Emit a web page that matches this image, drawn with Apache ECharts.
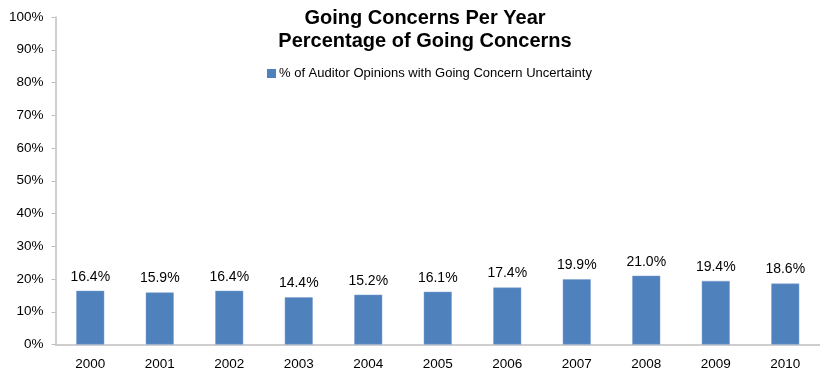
<!DOCTYPE html>
<html>
<head>
<meta charset="utf-8">
<script src="https://cdn.jsdelivr.net/npm/echarts@6/dist/echarts.min.js"></script>
<style>
  html, body { margin: 0; padding: 0; background: #fff; }
  #chart { width: 820px; height: 374px; }
</style>
</head>
<body>
<div id="chart"></div>
<script>
// Share of audit opinions carrying a going-concern uncertainty, by year
const years = ['2000', '2001', '2002', '2003', '2004', '2005', '2006', '2007', '2008', '2009', '2010'];
const goingConcernPct = [16.4, 15.9, 16.4, 14.4, 15.2, 16.1, 17.4, 19.9, 21.0, 19.4, 18.6];
const seriesName = '% of Auditor Opinions with Going Concern Uncertainty';
const titleLines = ['Going Concerns Per Year', 'Percentage of Going Concerns'];

const FONT = '"Liberation Sans Narrow", "Arial Narrow", "Liberation Sans", Arial, sans-serif';
const AXIS_GRAY = '#bfbfbf';
const BAR_BLUE = '#4f81bd';

const chart = echarts.init(document.getElementById('chart'), null, { renderer: 'canvas' });
chart.setOption({
  animation: false,
  title: {
    text: titleLines.join('\n'),
    left: 420,
    textAlign: 'center',
    top: 2,
    textStyle: { fontFamily: FONT, fontWeight: 'bold', fontSize: 20, lineHeight: 23, color: '#000' }
  },
  legend: {
    data: [{ name: seriesName, itemStyle: { color: BAR_BLUE, borderWidth: 0 } }],
    top: 62,
    left: 262,
    icon: 'rect',
    itemWidth: 9,
    itemHeight: 9,
    itemGap: 5,
    textStyle: { fontFamily: FONT, fontSize: 13, color: '#000', padding: [0, 0, 0, -2] }
  },
  grid: { left: 55.5, right: -11, top: 17, bottom: 29.5, containLabel: false },
  xAxis: {
    type: 'category',
    data: years,
    axisLine: { lineStyle: { color: AXIS_GRAY, width: 1.5 } },
    axisTick: { show: false },
    axisLabel: { fontFamily: FONT, fontSize: 13.5, color: '#000', margin: 13 }
  },
  yAxis: {
    type: 'value',
    min: 0,
    max: 100,
    interval: 10,
    axisLine: { show: true, lineStyle: { color: AXIS_GRAY, width: 1.5 } },
    axisTick: { show: true, length: 4, lineStyle: { color: AXIS_GRAY } },
    splitLine: { show: false },
    axisLabel: { fontFamily: FONT, fontSize: 13.5, color: '#000', margin: 12, formatter: '{value}%' }
  },
  series: [{
    name: seriesName,
    type: 'bar',
    data: goingConcernPct,
    barWidth: 28,
    itemStyle: { color: BAR_BLUE, borderColor: '#7da1d2', borderWidth: 0.5 },
    label: {
      show: true,
      position: 'top',
      distance: 7,
      fontFamily: FONT,
      fontSize: 14,
      color: '#000',
      formatter: p => p.value.toFixed(1) + '%'
    }
  }]
});
</script>
</body>
</html>
